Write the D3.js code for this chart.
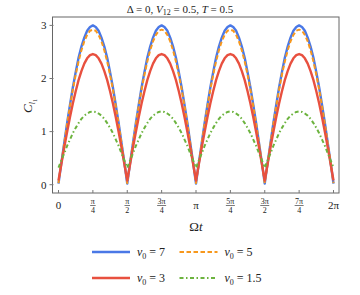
<!DOCTYPE html>
<html>
<head>
<meta charset="utf-8">
<script src="https://cdn.jsdelivr.net/npm/d3@7"></script>
<style>
  html, body { margin: 0; padding: 0; background: #fff; }
  svg { display: block; }
  svg text { font-family: "Liberation Serif", "DejaVu Serif", serif; }
</style>
</head>
<body>
<div id="chart"></div>
<script>
const nu7 = [
  0.02, 0.41, 0.78, 1.16, 1.50, 1.83, 2.12, 2.39, 2.60, 2.77, 2.90, 2.97, 3.00, 2.97, 2.90, 2.77, 2.60, 2.39, 2.12, 1.83, 1.50, 1.16, 0.78, 0.41,
  0.02, 0.41, 0.78, 1.16, 1.50, 1.83, 2.12, 2.39, 2.60, 2.77, 2.90, 2.97, 3.00, 2.97, 2.90, 2.77, 2.60, 2.39, 2.12, 1.83, 1.50, 1.16, 0.78, 0.41,
  0.02, 0.41, 0.78, 1.16, 1.50, 1.83, 2.12, 2.39, 2.60, 2.77, 2.90, 2.97, 3.00, 2.97, 2.90, 2.77, 2.60, 2.39, 2.12, 1.83, 1.50, 1.16, 0.78, 0.41,
  0.02, 0.41, 0.78, 1.16, 1.50, 1.83, 2.12, 2.39, 2.60, 2.77, 2.90, 2.97, 3.00, 2.97, 2.90, 2.77, 2.60, 2.39, 2.12, 1.83, 1.50, 1.16, 0.78, 0.41,
  0.02
];
const nu5 = [
  0.03, 0.41, 0.78, 1.14, 1.48, 1.79, 2.07, 2.32, 2.53, 2.70, 2.82, 2.90, 2.92, 2.90, 2.82, 2.70, 2.53, 2.32, 2.07, 1.79, 1.48, 1.14, 0.78, 0.41,
  0.03, 0.41, 0.78, 1.14, 1.48, 1.79, 2.07, 2.32, 2.53, 2.70, 2.82, 2.90, 2.92, 2.90, 2.82, 2.70, 2.53, 2.32, 2.07, 1.79, 1.48, 1.14, 0.78, 0.41,
  0.03, 0.41, 0.78, 1.14, 1.48, 1.79, 2.07, 2.32, 2.53, 2.70, 2.82, 2.90, 2.92, 2.90, 2.82, 2.70, 2.53, 2.32, 2.07, 1.79, 1.48, 1.14, 0.78, 0.41,
  0.03, 0.41, 0.78, 1.14, 1.48, 1.79, 2.07, 2.32, 2.53, 2.70, 2.82, 2.90, 2.92, 2.90, 2.82, 2.70, 2.53, 2.32, 2.07, 1.79, 1.48, 1.14, 0.78, 0.41,
  0.03
];
const nu3 = [
  0.08, 0.39, 0.70, 0.99, 1.27, 1.53, 1.76, 1.97, 2.14, 2.28, 2.38, 2.44, 2.46, 2.44, 2.38, 2.28, 2.14, 1.97, 1.76, 1.53, 1.27, 0.99, 0.70, 0.39,
  0.08, 0.39, 0.70, 0.99, 1.27, 1.53, 1.76, 1.97, 2.14, 2.28, 2.38, 2.44, 2.46, 2.44, 2.38, 2.28, 2.14, 1.97, 1.76, 1.53, 1.27, 0.99, 0.70, 0.39,
  0.08, 0.39, 0.70, 0.99, 1.27, 1.53, 1.76, 1.97, 2.14, 2.28, 2.38, 2.44, 2.46, 2.44, 2.38, 2.28, 2.14, 1.97, 1.76, 1.53, 1.27, 0.99, 0.70, 0.39,
  0.08, 0.39, 0.70, 0.99, 1.27, 1.53, 1.76, 1.97, 2.14, 2.28, 2.38, 2.44, 2.46, 2.44, 2.38, 2.28, 2.14, 1.97, 1.76, 1.53, 1.27, 0.99, 0.70, 0.39,
  0.08
];
const nu15 = [
  0.32, 0.46, 0.59, 0.73, 0.85, 0.97, 1.07, 1.16, 1.24, 1.30, 1.34, 1.37, 1.38, 1.37, 1.34, 1.30, 1.24, 1.16, 1.07, 0.97, 0.85, 0.73, 0.59, 0.46,
  0.32, 0.46, 0.59, 0.73, 0.85, 0.97, 1.07, 1.16, 1.24, 1.30, 1.34, 1.37, 1.38, 1.37, 1.34, 1.30, 1.24, 1.16, 1.07, 0.97, 0.85, 0.73, 0.59, 0.46,
  0.32, 0.46, 0.59, 0.73, 0.85, 0.97, 1.07, 1.16, 1.24, 1.30, 1.34, 1.37, 1.38, 1.37, 1.34, 1.30, 1.24, 1.16, 1.07, 0.97, 0.85, 0.73, 0.59, 0.46,
  0.32, 0.46, 0.59, 0.73, 0.85, 0.97, 1.07, 1.16, 1.24, 1.30, 1.34, 1.37, 1.38, 1.37, 1.34, 1.30, 1.24, 1.16, 1.07, 0.97, 0.85, 0.73, 0.59, 0.46,
  0.32
];
const tStepDivisor = 48; // t = k * pi / 48

const yTicks = [0, 1, 2, 3];
const xTickNums = [0, 1, 2, 3, 4, 5, 6, 7, 8]; // multiples of pi/4
const xTickLabels = [["0"], ["π", "4"], ["π", "2"], ["3π", "4"], ["π"], ["5π", "4"], ["3π", "2"], ["7π", "4"], ["2π"]];

const series = [
  { label: "7",   values: nu7,  color: "#4a78e6", width: 2.4, dash: null },
  { label: "5",   values: nu5,  color: "#f7981d", width: 2.0, dash: "4.5,2.5" },
  { label: "3",   values: nu3,  color: "#e8503f", width: 2.4, dash: null },
  { label: "1.5", values: nu15, color: "#6cb33e", width: 2.0, dash: "4,2.5,1.5,2.5" }
];

// --- layout ---
const W = 360, H = 295;
const frame = { left: 52.5, right: 339, top: 17, bottom: 193 };

const svg = d3.select("#chart").append("svg")
  .attr("width", W).attr("height", H);

const x = d3.scaleLinear().domain([0, 2 * Math.PI]).range([58.5, 333.5]);
const y = d3.scaleLinear().domain([0, 3]).range([184.7, 25.4]);

// frame
svg.append("rect")
  .attr("x", frame.left).attr("y", frame.top)
  .attr("width", frame.right - frame.left).attr("height", frame.bottom - frame.top)
  .attr("fill", "none").attr("stroke", "#666").attr("stroke-width", 1);

// y ticks
const yg = svg.append("g");
yg.selectAll("line").data(yTicks).join("line")
  .attr("x1", frame.left - 3).attr("x2", frame.left + 1)
  .attr("y1", d => y(d)).attr("y2", d => y(d))
  .attr("stroke", "#777").attr("stroke-width", 1);
yg.selectAll("text").data(yTicks).join("text")
  .attr("x", frame.left - 6).attr("y", d => y(d) + 3.8)
  .attr("text-anchor", "end").attr("font-size", 11).attr("fill", "#222")
  .text(d => d);

// x ticks
const xg = svg.append("g");
xg.selectAll("line").data(xTickNums).join("line")
  .attr("x1", d => x(d * Math.PI / 4)).attr("x2", d => x(d * Math.PI / 4))
  .attr("y1", frame.bottom - 3).attr("y2", frame.bottom)
  .attr("stroke", "#777").attr("stroke-width", 1);

xTickNums.forEach((d, i) => {
  const lab = xTickLabels[i];
  const cx = x(d * Math.PI / 4);
  if (lab.length === 1) {
    svg.append("text")
      .attr("x", cx).attr("y", 208.5)
      .attr("text-anchor", "middle").attr("font-size", 11).attr("fill", "#222")
      .text(lab[0]);
  } else {
    svg.append("text")
      .attr("x", cx).attr("y", 203.5)
      .attr("text-anchor", "middle").attr("font-size", 8).attr("fill", "#222")
      .text(lab[0]);
    const bw = lab[0].length > 1 ? 9 : 5.5;
    svg.append("line")
      .attr("x1", cx - bw / 2).attr("x2", cx + bw / 2)
      .attr("y1", 205.5).attr("y2", 205.5)
      .attr("stroke", "#222").attr("stroke-width", 0.6);
    svg.append("text")
      .attr("x", cx).attr("y", 212.5)
      .attr("text-anchor", "middle").attr("font-size", 8).attr("fill", "#222")
      .text(lab[1]);
  }
});

// title
const title = svg.append("text")
  .attr("x", 180).attr("y", 12.5)
  .attr("text-anchor", "middle").attr("font-size", 11).attr("fill", "#222");
title.append("tspan").text("Δ = 0, ");
title.append("tspan").attr("font-style", "italic").text("V");
title.append("tspan").attr("font-size", 8).attr("dy", 2.5).text("12");
title.append("tspan").attr("dy", -2.5).text(" = 0.5, ");
title.append("tspan").attr("font-style", "italic").text("T");
title.append("tspan").text(" = 0.5");

// axis labels
const xl = svg.append("text")
  .attr("x", 196).attr("y", 231)
  .attr("text-anchor", "middle").attr("font-size", 13).attr("fill", "#222");
xl.append("tspan").text("Ω");
xl.append("tspan").attr("font-style", "italic").text("t");

const yl = svg.append("text")
  .attr("transform", "translate(32,106) rotate(-90)")
  .attr("text-anchor", "middle").attr("font-size", 13).attr("fill", "#222");
yl.append("tspan").attr("font-style", "italic").text("C");
yl.append("tspan").attr("font-size", 8).attr("dy", 3).attr("font-style", "italic").text("l");
yl.append("tspan").attr("font-size", 6).attr("dy", 1.5).text("1");

// curves
const line = d3.line()
  .x((d, i) => x(i * Math.PI / tStepDivisor))
  .y(d => y(d));

const plot = svg.append("g");
plot.selectAll("path").data(series).join("path")
  .attr("d", d => line(d.values))
  .attr("fill", "none")
  .attr("stroke", d => d.color)
  .attr("stroke-width", d => d.width)
  .attr("stroke-dasharray", d => d.dash)
  .attr("stroke-linejoin", "round");

// legend
const legendPos = [
  { x: 92, y: 252 }, { x: 179.5, y: 252 },
  { x: 92, y: 278 }, { x: 179.5, y: 278 }
];
const leg = svg.append("g");
series.forEach((s, i) => {
  const p = legendPos[i];
  leg.append("line")
    .attr("x1", p.x).attr("x2", p.x + 38)
    .attr("y1", p.y).attr("y2", p.y)
    .attr("stroke", s.color).attr("stroke-width", s.width)
    .attr("stroke-dasharray", s.dash);
  const t = leg.append("text")
    .attr("x", p.x + 45).attr("y", p.y + 4)
    .attr("font-size", 12).attr("fill", "#222");
  t.append("tspan").attr("font-style", "italic").text("ν");
  t.append("tspan").attr("font-size", 8).attr("dy", 2.5).text("0");
  t.append("tspan").attr("dy", -2.5).text(" = " + s.label);
});
</script>
</body>
</html>
